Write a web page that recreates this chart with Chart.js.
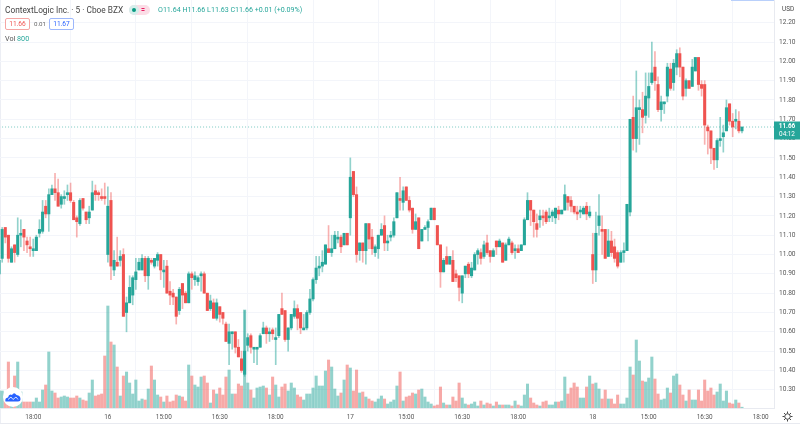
<!DOCTYPE html>
<html>
<head>
<meta charset="utf-8">
<title>ContextLogic Inc. 5</title>
<script src="https://cdn.jsdelivr.net/npm/chart.js@4"></script>
<style>
  html, body { margin: 0; padding: 0; background: #fff; }
  #wrap { position: relative; width: 800px; height: 424px; overflow: hidden; font-family: Roboto, sans-serif; color: #555; }
  #wrap canvas { position: absolute; left: 0; top: 0; }
  .t { position: absolute; white-space: nowrap; line-height: 10px; }
  .box { position: absolute; top: 18px; height: 10px; width: 23px; border-radius: 2px; text-align: center; font-size: 6.6px; line-height: 10px; background: #fff; }
  #topline { position: absolute; left: 731px; top: 0; width: 43px; height: 1px; background: #b9d0fb; }
  #bottomline { position: absolute; left: 0; top: 423px; width: 800px; height: 1px; background: #e8eaf0; }
  #leftline { position: absolute; left: 0; top: 0; width: 1px; height: 424px; background: #eceef4; }
</style>
</head>
<body>
<div id="wrap">
  <div id="leftline"></div>
  <canvas id="priceChart" width="800" height="424"></canvas>
  <div id="topline"></div>
  <div id="bottomline"></div>
  <div class="t" style="left:5px;top:5px;font-size:8.3px;color:#444">ContextLogic Inc. · 5 · Cboe BZX</div>
  <div class="t" style="left:129px;top:5px;width:21px;height:10px;border-radius:5px;background:#fbdde6"></div>
  <div class="t" style="left:129px;top:5px;width:10px;height:10px;border-radius:5px;background:#d5eeeb"></div>
  <div class="t" style="left:132px;top:8px;width:4px;height:4px;border-radius:2px;background:#089981"></div>
  <div class="t" style="left:141px;top:5px;font-size:7px;color:#e91e63;font-weight:700">=</div>
  <div class="t" id="ohlc" style="left:158px;top:5px;font-size:7.1px;color:#26a69a"></div>
  <div class="box" style="left:5px;color:#ef5350;border:1px solid #f5a5a3" id="bidBox"></div>
  <div class="t" style="left:34px;top:19px;font-size:6.2px;color:#666">0.01</div>
  <div class="box" style="left:49px;color:#2962ff;border:1px solid #9db7fb" id="askBox"></div>
  <div class="t" style="left:5px;top:34px;font-size:7.2px;color:#555">Vol <span style="color:#26a69a" id="volText"></span></div>
  <div class="t" style="left:782px;top:4px;font-size:6.4px;color:#444">USD</div>
  <svg style="position:absolute;left:3px;top:387px" width="20" height="20" viewBox="0 0 20 20">
    <circle cx="10" cy="10" r="10" fill="#fff"/>
    <path d="M2.5 14.5 Q1.5 11 5 10.5 Q6 6.5 9 8 Q11 4.5 13.5 8 Q17.5 8.5 17.5 12 Q17.5 14.5 15 14.5 Z" fill="#2962ff"/>
    <path d="M5 12.5 L8 10 L10 12.5 L13 10 L15 12.5" fill="none" stroke="#fff" stroke-width="0.8"/>
  </svg>
  <svg style="position:absolute;left:782px;top:411px" width="11" height="11" viewBox="0 0 22 22">
    <circle cx="11" cy="11" r="5.5" fill="none" stroke="#333" stroke-width="1.8"/>
    <path d="M11 1 V5 M11 17 V21 M1 11 H5 M17 11 H21 M4 4 L7 7 M15 15 L18 18 M18 4 L15 7 M7 15 L4 18" stroke="#333" stroke-width="1.8"/>
  </svg>
</div>

<script>
const opens = [
  10.90, 10.98, 11.14, 11.10, 10.96, 11.05, 11.00, 11.10, 11.13, 11.07,
  11.04, 11.02, 11.02, 11.11, 11.12, 11.25, 11.21, 11.31, 11.34, 11.32,
  11.26, 11.29, 11.31, 11.32, 11.27, 11.19, 11.16, 11.29, 11.22, 11.19,
  11.23, 11.33, 11.32, 11.30, 11.30, 11.00, 11.28, 10.92, 10.96, 10.97,
  11.00, 10.70, 10.75, 10.79, 10.87, 10.92, 10.92, 10.98, 10.89, 10.97,
  10.94, 10.97, 11.00, 10.91, 10.94, 10.81, 10.80, 10.78, 10.71, 10.85,
  10.80, 10.75, 10.90, 10.87, 10.86, 10.89, 10.90, 10.80, 10.72, 10.75,
  10.67, 10.73, 10.70, 10.64, 10.54, 10.59, 10.60, 10.52, 10.46, 10.38,
  10.53, 10.58, 10.51, 10.51, 10.52, 10.59, 10.62, 10.59, 10.61, 10.56,
  10.58, 10.72, 10.71, 10.56, 10.62, 10.68, 10.72, 10.70, 10.61, 10.62,
  10.70, 10.77, 10.87, 10.93, 10.94, 10.95, 11.03, 11.01, 11.03, 11.08,
  11.09, 11.05, 11.11, 11.19, 11.43, 11.31, 11.02, 11.06, 11.02, 11.16,
  11.09, 11.01, 11.03, 11.10, 11.15, 11.06, 11.09, 11.10, 11.19, 11.29,
  11.27, 11.35, 11.28, 11.24, 11.13, 11.19, 11.07, 11.13, 11.14, 11.18,
  11.24, 11.15, 11.05, 10.91, 10.99, 10.95, 10.97, 10.90, 10.89, 10.80,
  10.90, 10.95, 10.89, 10.92, 11.00, 11.01, 10.99, 11.06, 11.02, 10.99,
  11.07, 11.04, 11.06, 10.97, 11.05, 11.06, 11.02, 11.03, 11.02, 11.05,
  11.18, 11.28, 11.23, 11.16, 11.18, 11.20, 11.22, 11.19, 11.20, 11.19,
  11.23, 11.21, 11.23, 11.30, 11.28, 11.25, 11.22, 11.22, 11.21, 11.25,
  11.20, 11.00, 10.92, 11.15, 11.13, 11.13, 10.99, 11.07, 11.04, 11.01,
  10.96, 11.01, 11.02, 11.22, 11.71, 11.60, 11.75, 11.75, 11.72, 11.81,
  11.89, 11.97, 11.88, 11.75, 11.78, 11.82, 11.96, 11.89, 11.97, 12.04,
  11.97, 11.86, 11.90, 11.87, 11.95, 12.02, 11.88, 11.88, 11.66, 11.64,
  11.55, 11.49, 11.59, 11.61, 11.64, 11.78, 11.69, 11.69, 11.69, 11.64
];
const closes = [
  10.97, 11.13, 11.09, 10.98, 11.03, 11.01, 11.10, 11.11, 11.09, 11.05,
  11.03, 11.03, 11.09, 11.13, 11.22, 11.21, 11.31, 11.34, 11.32, 11.25,
  11.30, 11.30, 11.32, 11.28, 11.18, 11.17, 11.28, 11.24, 11.18, 11.22,
  11.32, 11.31, 11.31, 11.29, 11.29, 11.25, 10.94, 10.97, 10.94, 10.99,
  10.68, 10.75, 10.83, 10.88, 10.91, 10.96, 10.98, 10.89, 10.98, 10.96,
  10.98, 11.00, 10.92, 10.92, 10.80, 10.79, 10.78, 10.68, 10.82, 10.79,
  10.75, 10.90, 10.88, 10.89, 10.88, 10.90, 10.80, 10.71, 10.76, 10.67,
  10.75, 10.69, 10.67, 10.55, 10.60, 10.60, 10.52, 10.47, 10.40, 10.50,
  10.57, 10.52, 10.52, 10.52, 10.58, 10.62, 10.59, 10.60, 10.59, 10.57,
  10.69, 10.69, 10.56, 10.62, 10.69, 10.72, 10.67, 10.62, 10.62, 10.70,
  10.77, 10.87, 10.93, 10.94, 10.96, 11.05, 11.01, 11.03, 11.10, 11.09,
  11.04, 11.11, 11.05, 11.40, 11.31, 11.00, 11.06, 11.02, 11.16, 11.08,
  11.03, 11.04, 11.10, 11.13, 11.06, 11.07, 11.10, 11.17, 11.32, 11.28,
  11.33, 11.28, 11.23, 11.13, 11.17, 11.03, 11.13, 11.14, 11.17, 11.24,
  11.18, 11.05, 10.91, 10.97, 10.95, 10.99, 10.86, 10.88, 10.83, 10.89,
  10.94, 10.90, 10.93, 11.00, 11.02, 10.98, 11.05, 11.01, 10.99, 11.02,
  11.04, 11.07, 10.96, 11.05, 11.08, 11.01, 11.03, 11.01, 11.05, 11.18,
  11.28, 11.23, 11.17, 11.13, 11.20, 11.19, 11.17, 11.20, 11.22, 11.24,
  11.21, 11.23, 11.31, 11.27, 11.25, 11.22, 11.21, 11.23, 11.24, 11.21,
  11.22, 10.92, 11.11, 11.20, 11.12, 10.98, 11.07, 11.01, 10.98, 10.94,
  11.01, 11.02, 11.26, 11.70, 11.60, 11.76, 11.76, 11.71, 11.82, 11.87,
  11.94, 11.90, 11.75, 11.79, 11.79, 11.97, 11.86, 11.99, 12.04, 11.97,
  11.82, 11.90, 11.86, 11.97, 12.02, 11.88, 11.86, 11.67, 11.64, 11.55,
  11.49, 11.59, 11.60, 11.63, 11.76, 11.69, 11.66, 11.70, 11.64, 11.66
];
const highs = [
  10.97, 11.14, 11.14, 11.10, 11.04, 11.05, 11.19, 11.18, 11.13, 11.09,
  11.09, 11.08, 11.10, 11.18, 11.28, 11.28, 11.34, 11.36, 11.42, 11.39,
  11.31, 11.33, 11.36, 11.37, 11.28, 11.20, 11.29, 11.29, 11.22, 11.25,
  11.38, 11.36, 11.33, 11.34, 11.37, 11.35, 11.32, 11.02, 11.09, 11.02,
  11.03, 10.78, 10.89, 10.89, 10.98, 10.98, 11.00, 10.99, 10.99, 10.98,
  10.98, 11.01, 11.00, 10.97, 10.97, 10.86, 10.82, 10.78, 10.83, 10.85,
  10.81, 10.91, 10.91, 10.91, 10.89, 10.91, 10.91, 10.80, 10.79, 10.77,
  10.77, 10.73, 10.70, 10.65, 10.64, 10.60, 10.60, 10.56, 10.50, 10.71,
  10.59, 10.59, 10.52, 10.52, 10.59, 10.65, 10.63, 10.62, 10.62, 10.62,
  10.69, 10.80, 10.71, 10.62, 10.69, 10.76, 10.74, 10.70, 10.69, 10.71,
  10.82, 10.88, 10.99, 10.99, 11.02, 11.05, 11.15, 11.10, 11.12, 11.12,
  11.10, 11.11, 11.11, 11.50, 11.43, 11.35, 11.06, 11.06, 11.16, 11.16,
  11.13, 11.05, 11.10, 11.16, 11.20, 11.10, 11.12, 11.19, 11.32, 11.40,
  11.35, 11.35, 11.30, 11.24, 11.21, 11.19, 11.13, 11.15, 11.18, 11.24,
  11.24, 11.15, 11.05, 10.98, 11.04, 10.99, 11.02, 10.92, 10.89, 10.89,
  10.94, 10.96, 10.96, 11.01, 11.03, 11.03, 11.07, 11.10, 11.02, 11.03,
  11.07, 11.08, 11.06, 11.06, 11.09, 11.07, 11.05, 11.05, 11.05, 11.19,
  11.32, 11.28, 11.23, 11.21, 11.23, 11.23, 11.23, 11.24, 11.23, 11.24,
  11.25, 11.23, 11.36, 11.30, 11.30, 11.25, 11.25, 11.25, 11.25, 11.27,
  11.25, 11.11, 11.22, 11.31, 11.20, 11.13, 11.13, 11.12, 11.08, 11.02,
  11.02, 11.06, 11.26, 11.70, 11.82, 11.95, 11.80, 11.84, 11.94, 11.94,
  12.10, 12.05, 11.92, 11.82, 11.79, 11.99, 11.99, 12.01, 12.06, 12.07,
  11.97, 11.91, 11.90, 12.01, 12.02, 12.02, 11.90, 11.90, 11.67, 11.64,
  11.55, 11.60, 11.71, 11.67, 11.80, 11.78, 11.73, 11.75, 11.74, 11.66
];
const lows = [
  10.86, 10.96, 11.06, 10.96, 10.96, 10.96, 10.99, 11.04, 11.02, 11.01,
  10.99, 10.99, 11.02, 11.09, 11.11, 11.19, 11.12, 11.31, 11.28, 11.25,
  11.24, 11.26, 11.28, 11.27, 11.18, 11.09, 11.15, 11.23, 11.16, 11.16,
  11.23, 11.28, 11.28, 11.28, 11.26, 10.96, 10.87, 10.89, 10.94, 10.94,
  10.68, 10.60, 10.75, 10.74, 10.82, 10.92, 10.92, 10.86, 10.82, 10.95,
  10.93, 10.94, 10.87, 10.83, 10.80, 10.74, 10.74, 10.64, 10.69, 10.72,
  10.75, 10.75, 10.82, 10.84, 10.84, 10.81, 10.80, 10.71, 10.71, 10.67,
  10.66, 10.65, 10.64, 10.55, 10.43, 10.51, 10.49, 10.47, 10.39, 10.37,
  10.50, 10.49, 10.44, 10.43, 10.52, 10.59, 10.54, 10.55, 10.56, 10.43,
  10.57, 10.69, 10.55, 10.50, 10.61, 10.67, 10.61, 10.59, 10.61, 10.61,
  10.69, 10.76, 10.85, 10.89, 10.91, 10.95, 11.01, 10.99, 11.03, 11.06,
  11.01, 11.05, 11.05, 11.10, 11.30, 10.96, 10.97, 10.96, 10.95, 11.03,
  11.00, 10.99, 10.98, 11.10, 11.02, 11.02, 11.07, 11.09, 11.19, 11.23,
  11.23, 11.28, 11.22, 11.11, 11.13, 11.03, 11.07, 11.13, 11.07, 11.18,
  11.18, 11.05, 10.83, 10.91, 10.95, 10.95, 10.86, 10.86, 10.76, 10.75,
  10.88, 10.88, 10.88, 10.92, 10.95, 10.95, 10.98, 11.00, 10.96, 10.99,
  11.00, 11.04, 10.96, 10.97, 11.05, 11.00, 10.98, 11.01, 11.02, 11.05,
  11.18, 11.15, 11.09, 11.09, 11.14, 11.15, 11.16, 11.17, 11.17, 11.16,
  11.18, 11.21, 11.23, 11.23, 11.22, 11.21, 11.18, 11.19, 11.21, 11.18,
  11.19, 10.85, 10.86, 11.10, 11.00, 10.98, 10.99, 10.99, 10.96, 10.93,
  10.96, 10.96, 11.02, 11.20, 11.54, 11.53, 11.57, 11.63, 11.68, 11.71,
  11.88, 11.85, 11.74, 11.69, 11.73, 11.79, 11.85, 11.85, 11.93, 11.92,
  11.80, 11.82, 11.86, 11.87, 11.95, 11.85, 11.82, 11.57, 11.52, 11.47,
  11.44, 11.45, 11.56, 11.53, 11.64, 11.67, 11.61, 11.65, 11.63, 11.63
];
// volume in thousands of shares
const volumes = [
  17, 17, 12, 46, 16, 32, 46, 16, 6, 6,
  6, 6, 10, 6, 18, 23, 56, 17, 15, 10,
  11, 12, 11, 10, 10, 12, 10, 8, 7, 15,
  28, 12, 13, 14, 52, 102, 66, 63, 41, 12,
  32, 36, 25, 14, 28, 7, 9, 8, 19, 42,
  28, 13, 11, 6, 12, 6, 7, 13, 12, 11,
  7, 43, 32, 23, 21, 31, 32, 25, 5, 18,
  14, 20, 13, 31, 38, 14, 14, 24, 22, 98,
  25, 18, 10, 20, 21, 22, 20, 13, 31, 23,
  11, 21, 24, 17, 25, 20, 13, 11, 8, 14,
  14, 20, 32, 22, 22, 37, 48, 41, 19, 12,
  15, 28, 43, 40, 17, 38, 15, 16, 11, 9,
  7, 6, 9, 12, 9, 4, 6, 8, 22, 36,
  7, 11, 12, 15, 14, 18, 19, 11, 6, 4,
  2, 3, 21, 5, 3, 3, 11, 7, 25, 10,
  4, 3, 4, 6, 2, 7, 3, 5, 4, 2,
  6, 3, 3, 3, 3, 2, 7, 3, 2, 13,
  24, 10, 5, 3, 2, 6, 7, 3, 3, 6,
  6, 7, 31, 14, 20, 25, 21, 10, 10, 21,
  32, 24, 25, 19, 9, 18, 9, 9, 4, 13,
  4, 4, 10, 41, 33, 68, 47, 27, 26, 30,
  51, 29, 14, 8, 9, 20, 15, 32, 34, 23,
  13, 7, 18, 8, 8, 18, 7, 28, 17, 20,
  13, 16, 24, 7, 17, 5, 4, 8, 5, 0.8
];
const timeTicks = [11, 35, 53, 71, 89, 113, 131, 149, 167, 191, 209, 227, 245];
const timeLabels = ['18:00', '16', '15:00', '16:30', '18:00', '17', '15:00', '16:30', '18:00', '18', '15:00', '16:30', '18:00'];
const priceTicks = [10.3, 10.4, 10.5, 10.6, 10.7, 10.8, 10.9, 11.0, 11.1, 11.2, 11.3, 11.4, 11.5, 11.6, 11.7, 11.8, 11.9, 12.0, 12.1, 12.2];

const UP = '#26a69a';
const DOWN = '#ef5350';
const lastIdx = closes.length - 1;
const lastPrice = closes[lastIdx];

// text in the header comes from the last candle
document.querySelector('#ohlc').textContent =
  `O${opens[lastIdx].toFixed(2)} H${highs[lastIdx].toFixed(2)} L${lows[lastIdx].toFixed(2)} C${lastPrice.toFixed(2)} +0.01 (+0.09%)`;
document.querySelector('#bidBox').textContent = lastPrice.toFixed(2);
document.querySelector('#askBox').textContent = (lastPrice + 0.01).toFixed(2);
document.querySelector('#volText').textContent = (volumes[lastIdx] * 1000).toFixed(0);

const isUp = i => closes[i] >= opens[i];

const lastLabel = {
  id: 'lastLabel',
  afterDraw(chart) {
    const ctx = chart.ctx;
    const y = chart.scales.y.getPixelForValue(lastPrice);
    const left = chart.chartArea.right;
    ctx.save();
    ctx.fillStyle = UP;
    ctx.fillRect(left, y - 5.5, 26, 18);
    ctx.fillStyle = '#fff';
    ctx.textAlign = 'center';
    ctx.textBaseline = 'middle';
    ctx.font = '700 6.4px Roboto';
    ctx.fillText(lastPrice.toFixed(2), left + 13, y - 0.5);
    ctx.font = '6.4px Roboto';
    ctx.fillText('04:12', left + 13, y + 7);
    ctx.restore();
  }
};

new Chart(document.getElementById('priceChart').getContext('2d'), {
  type: 'bar',
  data: {
    datasets: [
      {
        label: 'Last',
        type: 'line',
        data: [{ x: 0, y: lastPrice }, { x: 250, y: lastPrice }],
        borderColor: 'rgba(38,166,154,0.6)',
        borderWidth: 1,
        borderDash: [1, 2],
        pointRadius: 0,
        yAxisID: 'y',
        order: 4
      },
      {
        label: 'Body',
        data: opens.map((o, i) => ({ x: i, y: [o, closes[i]] })),
        backgroundColor: c => isUp(c.dataIndex) ? UP : DOWN,
        barThickness: 2.4,
        minBarLength: 1,
        yAxisID: 'y',
        order: 1
      },
      {
        label: 'Wick',
        data: lows.map((l, i) => ({ x: i, y: [l, highs[i]] })),
        backgroundColor: c => isUp(c.dataIndex) ? 'rgba(38,166,154,0.5)' : 'rgba(239,83,80,0.45)',
        barThickness: 1,
        yAxisID: 'y',
        order: 2
      },
      {
        label: 'Volume',
        data: volumes.map((v, i) => ({ x: i, y: v })),
        backgroundColor: c => isUp(c.dataIndex) ? 'rgba(38,166,154,0.5)' : 'rgba(239,83,80,0.5)',
        barThickness: 2.4,
        yAxisID: 'yVol',
        order: 3
      }
    ]
  },
  options: {
    responsive: false,
    animation: false,
    events: [],
    grouped: false,
    layout: { padding: 0 },
    plugins: { legend: { display: false }, tooltip: { enabled: false } },
    scales: {
      x: {
        type: 'linear',
        offset: false,
        min: 0.3,
        max: 249.3,
        afterBuildTicks: s => { s.ticks = timeTicks.map(v => ({ value: v })); },
        afterFit: s => { s.height = 16; s.paddingLeft = 0; s.paddingRight = 0; },
        grid: { color: '#f3f5fa', drawTicks: false },
        border: { display: true, color: '#e8eaf0' },
        ticks: {
          autoSkip: false,
          maxRotation: 0,
          padding: 6,
          color: '#555',
          font: { size: 6.4, family: 'Roboto' },
          callback: v => timeLabels[timeTicks.indexOf(v)]
        }
      },
      y: {
        position: 'right',
        min: 10.2056,
        max: 12.3174,
        afterBuildTicks: s => { s.ticks = priceTicks.map(v => ({ value: v })); },
        afterFit: s => { s.width = 26; s.paddingTop = 0; s.paddingBottom = 0; },
        grid: { color: '#f3f5fa', drawTicks: false },
        border: { display: true, color: '#e8eaf0' },
        ticks: {
          padding: 5,
          color: '#555',
          font: { size: 6.6, family: 'Roboto' },
          callback: v => v.toFixed(2)
        }
      },
      yVol: {
        display: false,
        min: 0,
        max: 408
      }
    }
  },
  plugins: [lastLabel]
});
</script>
</body>
</html>
